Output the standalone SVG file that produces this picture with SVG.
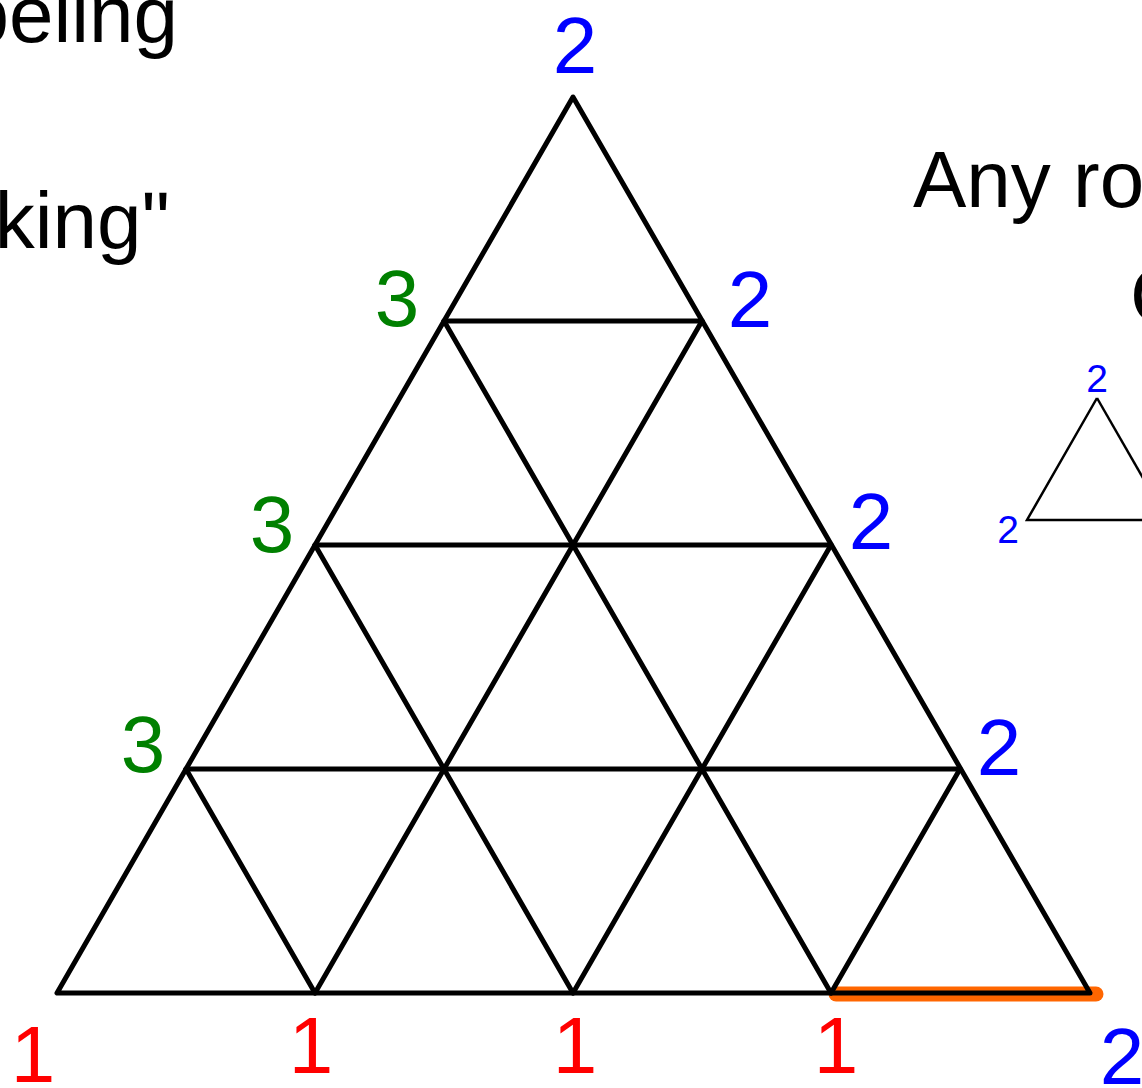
<svg xmlns="http://www.w3.org/2000/svg" width="1142" height="1088" viewBox="0 0 1142 1088">
<style>
.t{font-family:"Liberation Sans",Arial,sans-serif;font-size:80px;fill:#000}
.b{font-family:"Liberation Sans",Arial,sans-serif;font-size:80px;fill:#0000ff;text-anchor:middle}
.g{font-family:"Liberation Sans",Arial,sans-serif;font-size:80px;fill:#008000;text-anchor:middle}
.r{font-family:"Liberation Sans",Arial,sans-serif;font-size:80px;fill:#ff0000;text-anchor:middle}
.s{font-family:"Liberation Sans",Arial,sans-serif;font-size:39px;fill:#0000ff;text-anchor:middle}
.grid{stroke:#000;stroke-width:5;fill:none;stroke-linejoin:round;stroke-linecap:round}
.thin{stroke:#000;stroke-width:2.5;fill:none;stroke-linejoin:miter}
</style>
<rect width="1142" height="1088" fill="#fff"/>
<g id="title">
<text class="t" x="178" y="42" text-anchor="end">Labeling</text>
<text class="t" x="170" y="248" text-anchor="end">king"</text>
<text class="t" x="913" y="207">Any ro</text>
<text class="t" x="1130" y="323">C</text>
</g>
<g id="highlight">
<line x1="836" y1="994" x2="1096" y2="994" stroke="#ff6600" stroke-width="15" stroke-linecap="round"/>
</g>
<g id="connectors" class="grid">
<path d="M573,97 L57,993 L1090,993 Z"/>
<line x1="444" y1="321" x2="702" y2="321"/>
<line x1="315" y1="545" x2="831" y2="545"/>
<line x1="186" y1="769" x2="960" y2="769"/>
<line x1="315" y1="993" x2="702" y2="321"/>
<line x1="573" y1="993" x2="831" y2="545"/>
<line x1="831" y1="993" x2="960" y2="769"/>
<line x1="831" y1="993" x2="444" y2="321"/>
<line x1="573" y1="993" x2="315" y2="545"/>
<line x1="315" y1="993" x2="186" y2="769"/>
</g>
<g id="small-triangle">
<path class="thin" d="M1097,398 L1027,520 L1170,520"/>
<path class="thin" d="M1097,398 L1170,525"/>
<text class="s" x="1097" y="392">2</text>
<text class="s" x="1008" y="543">2</text>
</g>
<g id="labels-blue">
<text class="b" x="575" y="73">2</text>
<text class="b" x="750" y="327">2</text>
<text class="b" x="871" y="549">2</text>
<text class="b" x="999" y="775">2</text>
<text class="b" x="1122" y="1084">2</text>
</g>
<g id="labels-green">
<text class="g" x="397" y="326">3</text>
<text class="g" x="272" y="552">3</text>
<text class="g" x="143" y="772">3</text>
</g>
<g id="labels-red">
<text class="r" x="33" y="1082">1</text>
<text class="r" x="311" y="1073">1</text>
<text class="r" x="575" y="1073">1</text>
<text class="r" x="836" y="1073">1</text>
</g>
</svg>
